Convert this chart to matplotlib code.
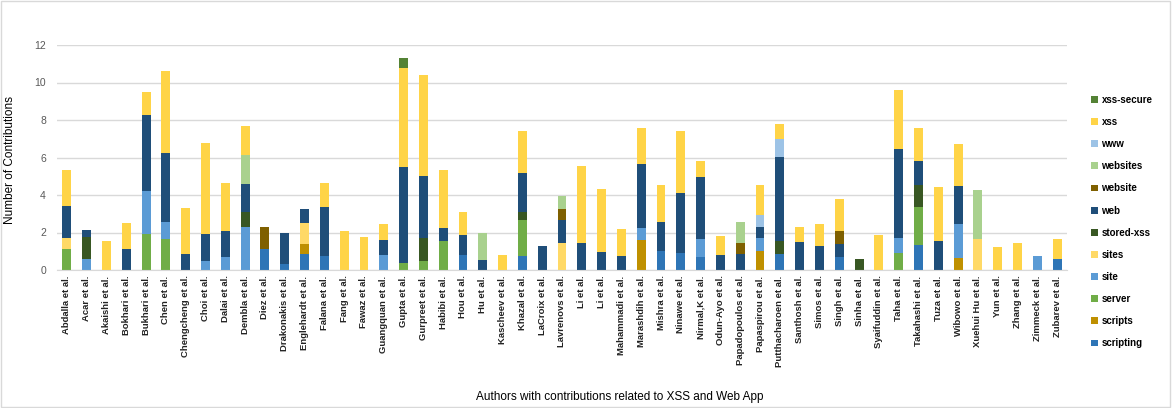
import numpy as np
import matplotlib
matplotlib.use('Agg')
import matplotlib.pyplot as plt
from matplotlib.patches import Rectangle

plt.rcParams['font.family'] = ['Liberation Sans', 'DejaVu Sans']

authors = ['Abdalla et al.', 'Acar et al.', 'Akaishi et al.', 'Bokhari et al.', 'Bukhari et al.',
           'Chen et al.', 'Chengcheng et al.', 'Choi et al.', 'Dalai et al.', 'Dembla et al.',
           'Diez et al.', 'Drakonakis et al.', 'Englehardt et al.', 'Falana et al.', 'Fang et al.',
           'Fawaz et al.', 'Guangquan et al.', 'Gupta et al.', 'Gurpreet et al.', 'Habibi et al.',
           'Hou et al.', 'Hu et al.', 'Kascheev et al.', 'Khazal et al.', 'LaCroix et al.',
           'Lavrenovs et al.', 'Li et al.', 'Li et al.', 'Mahammadi et al.', 'Marashdih et al.',
           'Mishra et al.', 'Ninawe et al.', 'Nirmal,K et al.', 'Odun-Ayo et al.', 'Papadopoulos et al.',
           'Papaspirou et al.', 'Putthacharoen et al.', 'Santhosh et al.', 'Simos et al.', 'Singh et al.',
           'Sinha et al.', 'Syaifuddin et al.', 'Taha et al.', 'Takahashi et al.', 'Tuza et al.',
           'Wibowo et al.', 'Xuehui Hu et al.', 'Yun et al.', 'Zhang et al.', 'Zimmeck et al.',
           'Zubarev et al.']

# values per keyword, one per author (stacked bottom -> top in this order)
scripting = [0, 0, 0, 0, 0, 0, 0, 0, 0, 0,
             1.12, 0.30, 0.85, 0.75, 0, 0, 0, 0, 0, 0,
             0.78, 0, 0, 0.73, 0, 0, 0, 0, 0, 0,
             1.03, 0.91, 0.68, 0, 0, 0, 0.85, 0, 0, 0.68,
             0, 0, 0, 1.32, 0, 0, 0, 0, 0, 0,
             0.57]
scripts = [0, 0, 0, 0, 0, 0, 0, 0, 0, 0,
           0, 0, 0.55, 0, 0, 0, 0, 0, 0, 0,
           0, 0, 0, 0, 0, 0, 0, 0, 0, 1.62,
           0, 0, 0, 0, 0, 1.00, 0, 0, 0, 0,
           0, 0, 0, 0, 0, 0.66, 0, 0, 0, 0,
           0]
server = [1.12, 0, 0, 0, 1.92, 1.64, 0, 0, 0, 0,
          0, 0, 0, 0, 0, 0, 0, 0.37, 0.48, 1.57,
          0, 0, 0, 1.92, 0, 0, 0, 0, 0, 0,
          0, 0, 0, 0, 0, 0, 0, 0, 0, 0,
          0, 0, 0.91, 2.05, 0, 0, 0, 0, 0, 0,
          0]
site = [0, 0.61, 0, 0, 2.30, 0.93, 0, 0.50, 0.68, 2.31,
        0, 0, 0, 0, 0, 0, 0.78, 0, 0, 0,
        0, 0, 0, 0, 0, 0, 0, 0, 0, 0.62,
        0, 0, 1.00, 0, 0, 0.73, 0, 0, 0, 0,
        0, 0, 0.78, 0, 0, 1.82, 0, 0, 0, 0.75,
        0]
sites = [0.57, 0, 0, 0, 0, 0, 0, 0, 0, 0,
         0, 0, 1.09, 0, 0, 0, 0, 0, 0, 0,
         0, 0, 0, 0, 0, 1.46, 0, 0, 0, 0,
         0, 0, 0, 0, 0, 0, 0, 0, 0, 0,
         0, 0, 0, 0, 0, 0, 1.67, 0, 0, 0,
         0]
stored_xss = [0, 1.14, 0, 0, 0, 0, 0, 0, 0, 0.77,
              0, 0, 0, 0, 0, 0, 0, 0, 1.23, 0,
              0, 0, 0, 0.46, 0, 0, 0, 0, 0, 0,
              0, 0, 0, 0, 0, 0, 0.69, 0, 0, 0,
              0.59, 0, 0, 1.14, 0, 0, 0, 0, 0, 0,
              0]
web = [1.73, 0.39, 0, 1.10, 4.04, 3.65, 0.85, 1.41, 1.41, 1.50,
       0, 1.69, 0.77, 2.63, 0, 0, 0.82, 5.11, 3.29, 0.68,
       1.07, 0.53, 0, 2.08, 1.28, 1.23, 1.42, 0.94, 0.75, 3.44,
       1.51, 3.19, 3.29, 0.78, 0.87, 0.59, 4.50, 1.50, 1.26, 0.73,
       0, 0, 4.75, 1.30, 1.57, 1.98, 0, 0, 0, 0,
       0]
website = [0, 0, 0, 0, 0, 0, 0, 0, 0, 0,
           1.19, 0, 0, 0, 0, 0, 0, 0, 0, 0,
           0, 0, 0, 0, 0, 0.55, 0, 0, 0, 0,
           0, 0, 0, 0, 0.59, 0, 0, 0, 0, 0.69,
           0, 0, 0, 0, 0, 0, 0, 0, 0, 0,
           0]
websites = [0, 0, 0, 0, 0, 0, 0, 0, 0, 1.53,
            0, 0, 0, 0, 0, 0, 0, 0, 0, 0,
            0, 1.46, 0, 0, 0, 0.73, 0, 0, 0, 0,
            0, 0, 0, 0, 1.10, 0, 0, 0, 0, 0,
            0, 0, 0, 0, 0, 0, 2.58, 0, 0, 0,
            0]
www = [0, 0, 0, 0, 0, 0, 0, 0, 0, 0,
       0, 0, 0, 0, 0, 0, 0, 0, 0, 0,
       0, 0, 0, 0, 0, 0, 0, 0, 0, 0,
       0, 0, 0, 0, 0, 0.62, 0.96, 0, 0, 0,
       0, 0, 0, 0, 0, 0, 0, 0, 0, 0,
       0]
xss = [1.89, 0, 1.53, 1.42, 1.21, 4.38, 2.44, 4.86, 2.56, 1.57,
       0, 0, 0, 1.25, 2.07, 1.76, 0.84, 5.29, 5.38, 3.10,
       1.26, 0, 0.80, 2.24, 0, 0, 4.13, 3.36, 1.42, 1.89,
       1.98, 3.33, 0.87, 1.05, 0, 1.62, 0.77, 0.78, 1.17, 1.69,
       0, 1.85, 3.17, 1.76, 2.88, 2.28, 0, 1.25, 1.44, 0,
       1.08]
xss_secure = [0, 0, 0, 0, 0, 0, 0, 0, 0, 0,
              0, 0, 0, 0, 0, 0, 0, 0.53, 0, 0,
              0, 0, 0, 0, 0, 0, 0, 0, 0, 0,
              0, 0, 0, 0, 0, 0, 0, 0, 0, 0,
              0, 0, 0, 0, 0, 0, 0, 0, 0, 0,
              0]

series = [('scripting', scripting, '#2E75B6'),
          ('scripts', scripts, '#BF9000'),
          ('server', server, '#70AD47'),
          ('site', site, '#5B9BD5'),
          ('sites', sites, '#FFD966'),
          ('stored-xss', stored_xss, '#385723'),
          ('web', web, '#1F4E79'),
          ('website', website, '#7F6000'),
          ('websites', websites, '#A9D18E'),
          ('www', www, '#9DC3E6'),
          ('xss', xss, '#FFD447'),
          ('xss-secure', xss_secure, '#548235')]

fig = plt.figure(figsize=(11.72, 4.08), dpi=100)
ax = fig.add_axes([57/1172, 1-270/408, (1067-57)/1172, (270-45)/408])

x = np.arange(len(authors))
bottom = np.zeros(len(authors))
handles = []
for name, vals, col in series:
    vals = np.array(vals)
    b = ax.bar(x, vals, 0.45, bottom=bottom, color=col, label=name, linewidth=0)
    handles.append(b)
    bottom += vals

ax.set_xlim(-0.5, len(authors) - 0.5)
ax.set_ylim(0, 12)
ax.set_yticks(range(0, 13, 2))
ax.yaxis.grid(True, color='#D9D9D9', linewidth=1)
ax.set_axisbelow(True)
for s in ['top', 'right', 'left']:
    ax.spines[s].set_visible(False)
ax.spines['bottom'].set_color('#D9D9D9')
ax.tick_params(axis='y', length=0, labelsize=7.5, labelcolor='#595959', pad=8)
ax.tick_params(axis='x', length=0, pad=4)
ax.set_xticks(x)
ax.set_xticklabels(authors, rotation=90, fontsize=6.8, fontweight='bold', color='#222222')

fig.text(10/1172, 1-160/408, 'Number of Contributions', rotation=90, ha='center', va='center', fontsize=8.5)
fig.text(620/1172, 1-397/408, 'Authors with contributions related to XSS and Web App', ha='center', va='center', fontsize=8.5)

leg = fig.legend(handles[::-1], [s[0] for s in series][::-1], loc='upper left',
                 bbox_to_anchor=(1082/1172, 1-86/408), frameon=False,
                 prop={'size': 7, 'weight': 'bold'}, labelspacing=1.25,
                 handlelength=0.7, handleheight=0.7, handletextpad=0.4)

fig.patches.append(Rectangle((0.001, 0.002), 0.997, 0.995, transform=fig.transFigure,
                             fill=False, edgecolor='#D9D9D9', linewidth=1))

fig.savefig('out.png', dpi=100)
